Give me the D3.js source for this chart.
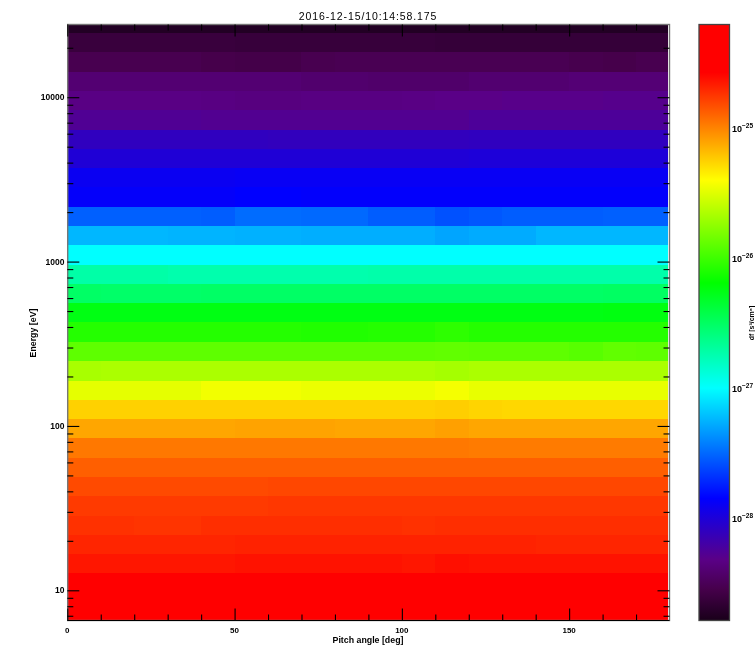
<!DOCTYPE html>
<html>
<head>
<meta charset="utf-8">
<script src="https://cdn.jsdelivr.net/npm/d3@7"></script>
<style>
html,body{margin:0;padding:0;background:#fff;overflow:hidden}
svg{display:block;filter:blur(0.45px)}
text{font-family:"Liberation Sans",Arial,sans-serif;fill:#000}
</style>
</head>
<body>
<svg id="chart" width="755" height="648"></svg>
<script>
const title = "2016-12-15/10:14:58.175";
const xLabel = "Pitch angle [deg]";
const yLabel = "Energy [eV]";
const cbLabel = "df [s\u00B3/cm\u2076]";

// pitch-angle bin edges (deg)
const pitchEdges = [0,10,20,30,40,50,60,70,80,90,100,110,120,130,140,150,160,170,179.4];
// energy bin edges (eV), high to low
const energyEdges = [27700,24547,18737,14302,10909,8327,6353,4849,3700,2824,2155,1644,1255,958,731,558,426,325,248,189,144,110,84,64,49,37.4,28.5,21.8,16.6,12.7,9.67,6.55];
// log10 of the phase-space density: one row per energy bin, one column per pitch bin
const logFlux = [
[-28.74,-28.74,-28.74,-28.74,-28.74,-28.74,-28.74,-28.74,-28.74,-28.74,-28.74,-28.74,-28.74,-28.74,-28.74,-28.74,-28.74,-28.74],
[-28.62,-28.62,-28.62,-28.62,-28.62,-28.63,-28.63,-28.63,-28.63,-28.63,-28.63,-28.64,-28.64,-28.64,-28.64,-28.64,-28.64,-28.64],
[-28.53,-28.53,-28.53,-28.53,-28.55,-28.56,-28.56,-28.53,-28.52,-28.52,-28.52,-28.52,-28.52,-28.52,-28.52,-28.54,-28.55,-28.53],
[-28.40,-28.40,-28.40,-28.40,-28.40,-28.40,-28.40,-28.42,-28.42,-28.43,-28.43,-28.43,-28.41,-28.41,-28.41,-28.39,-28.39,-28.39],
[-28.33,-28.33,-28.33,-28.33,-28.34,-28.35,-28.35,-28.34,-28.34,-28.34,-28.33,-28.32,-28.32,-28.31,-28.31,-28.31,-28.30,-28.30],
[-28.27,-28.27,-28.27,-28.27,-28.28,-28.28,-28.28,-28.28,-28.28,-28.28,-28.28,-28.28,-28.25,-28.25,-28.25,-28.25,-28.25,-28.25],
[-28.10,-28.10,-28.10,-28.10,-28.10,-28.10,-28.11,-28.11,-28.11,-28.11,-28.11,-28.11,-28.10,-28.10,-28.10,-28.10,-28.10,-28.10],
[-28.01,-28.01,-28.01,-28.01,-28.01,-28.01,-28.01,-28.01,-28.01,-28.01,-28.01,-28.01,-28.00,-28.00,-28.00,-28.00,-28.00,-28.00],
[-27.90,-27.90,-27.90,-27.90,-27.90,-27.89,-27.89,-27.89,-27.89,-27.89,-27.89,-27.89,-27.89,-27.89,-27.89,-27.89,-27.89,-27.89],
[-27.87,-27.87,-27.87,-27.87,-27.87,-27.85,-27.85,-27.86,-27.86,-27.86,-27.86,-27.86,-27.86,-27.86,-27.86,-27.86,-27.86,-27.86],
[-27.53,-27.53,-27.53,-27.53,-27.54,-27.49,-27.49,-27.50,-27.50,-27.54,-27.54,-27.58,-27.56,-27.54,-27.54,-27.54,-27.53,-27.53],
[-27.24,-27.24,-27.24,-27.25,-27.25,-27.26,-27.26,-27.27,-27.27,-27.27,-27.27,-27.30,-27.28,-27.28,-27.24,-27.24,-27.24,-27.24],
[-27.00,-27.00,-27.00,-27.00,-27.00,-27.00,-27.00,-27.00,-27.00,-27.00,-27.00,-27.00,-27.00,-27.00,-27.00,-27.00,-27.00,-27.00],
[-26.72,-26.72,-26.72,-26.74,-26.74,-26.74,-26.74,-26.74,-26.74,-26.73,-26.73,-26.73,-26.73,-26.73,-26.73,-26.73,-26.73,-26.73],
[-26.51,-26.52,-26.52,-26.52,-26.51,-26.51,-26.51,-26.51,-26.51,-26.51,-26.51,-26.51,-26.51,-26.51,-26.51,-26.51,-26.50,-26.50],
[-26.25,-26.25,-26.25,-26.25,-26.25,-26.25,-26.25,-26.25,-26.25,-26.25,-26.25,-26.25,-26.25,-26.25,-26.25,-26.25,-26.24,-26.24],
[-26.08,-26.08,-26.08,-26.08,-26.08,-26.08,-26.08,-26.09,-26.09,-26.08,-26.08,-26.05,-26.08,-26.08,-26.08,-26.08,-26.08,-26.08],
[-25.90,-25.90,-25.90,-25.90,-25.90,-25.90,-25.90,-25.90,-25.90,-25.90,-25.90,-25.89,-25.90,-25.90,-25.90,-25.92,-25.89,-25.90],
[-25.67,-25.66,-25.66,-25.66,-25.66,-25.66,-25.66,-25.66,-25.66,-25.66,-25.66,-25.68,-25.66,-25.66,-25.66,-25.66,-25.66,-25.66],
[-25.48,-25.48,-25.48,-25.48,-25.44,-25.44,-25.44,-25.46,-25.46,-25.46,-25.46,-25.43,-25.47,-25.47,-25.47,-25.47,-25.47,-25.47],
[-25.25,-25.25,-25.25,-25.25,-25.25,-25.25,-25.25,-25.25,-25.25,-25.25,-25.25,-25.24,-25.26,-25.27,-25.27,-25.27,-25.27,-25.27],
[-25.11,-25.11,-25.11,-25.11,-25.11,-25.10,-25.10,-25.10,-25.11,-25.11,-25.11,-25.09,-25.11,-25.11,-25.11,-25.11,-25.11,-25.11],
[-24.96,-24.96,-24.96,-24.96,-24.96,-24.96,-24.96,-24.96,-24.96,-24.96,-24.96,-24.96,-24.97,-24.97,-24.97,-24.97,-24.97,-24.97],
[-24.88,-24.88,-24.88,-24.88,-24.88,-24.88,-24.88,-24.88,-24.88,-24.88,-24.88,-24.88,-24.88,-24.88,-24.88,-24.88,-24.88,-24.88],
[-24.81,-24.81,-24.81,-24.81,-24.81,-24.81,-24.80,-24.80,-24.80,-24.80,-24.80,-24.80,-24.80,-24.80,-24.80,-24.80,-24.80,-24.80],
[-24.76,-24.76,-24.76,-24.76,-24.76,-24.76,-24.75,-24.75,-24.75,-24.75,-24.75,-24.75,-24.75,-24.75,-24.75,-24.75,-24.75,-24.75],
[-24.73,-24.73,-24.74,-24.74,-24.72,-24.72,-24.72,-24.72,-24.72,-24.72,-24.73,-24.72,-24.72,-24.72,-24.72,-24.72,-24.72,-24.72],
[-24.69,-24.69,-24.69,-24.69,-24.69,-24.68,-24.68,-24.68,-24.68,-24.68,-24.68,-24.68,-24.68,-24.68,-24.69,-24.69,-24.69,-24.69],
[-24.64,-24.64,-24.64,-24.64,-24.64,-24.63,-24.63,-24.63,-24.63,-24.63,-24.64,-24.62,-24.63,-24.63,-24.63,-24.63,-24.63,-24.63],
[-24.50,-24.50,-24.50,-24.50,-24.50,-24.50,-24.50,-24.50,-24.50,-24.50,-24.50,-24.50,-24.50,-24.50,-24.50,-24.50,-24.50,-24.50],
[-24.40,-24.40,-24.40,-24.40,-24.40,-24.40,-24.40,-24.40,-24.40,-24.40,-24.40,-24.40,-24.40,-24.40,-24.40,-24.40,-24.40,-24.40]
];
// colour bar: log10 stops and their colours
const cbDomain = [-28.79,-24.2];
const colorStops = [-28.79,-28.55,-28.32,-27.85,-27.0,-26.19,-25.4,-24.57,-24.2];
const colorValues = ["#19001a","#46004b","#5a0087","#0000ff","#00ffff","#00ff00","#ffff00","#ff0000","#ff0000"];
const cbTicks = [-25,-26,-27,-28];
const xMajor = [0,50,100,150];
const xMinor = [10,20,30,40,60,70,80,90,110,120,130,140,160,170];
const yMajor = [10,100,1000,10000];
const yMinor = [7,8,9,20,30,40,50,60,70,80,90,200,300,400,500,600,700,800,900,2000,3000,4000,5000,6000,7000,8000,9000,20000];

const svg = d3.select("#chart");
const L = 67.3, R = 669.5, T = 24.5, B = 620.5;
const CL = 699, CR = 729.5;

const x = d3.scaleLinear().domain([0,180]).range([L,R]);
const y = d3.scaleLog().domain([energyEdges[energyEdges.length-1],energyEdges[0]]).range([B,T]);
const color = d3.scaleLinear().domain(colorStops).range(colorValues).interpolate(d3.interpolateRgb).clamp(true);
const cbY = d3.scaleLinear().domain(cbDomain).range([B,T]);

// heat map cells
const cells = [];
logFlux.forEach((row,i)=>row.forEach((v,j)=>cells.push({i,j,v})));
svg.append("g").attr("shape-rendering","crispEdges").selectAll("rect").data(cells).join("rect")
  .attr("x",d=>x(pitchEdges[d.j]))
  .attr("width",d=>x(pitchEdges[d.j+1])-x(pitchEdges[d.j])+0.5)
  .attr("y",d=>y(energyEdges[d.i]))
  .attr("height",d=>y(energyEdges[d.i+1])-y(energyEdges[d.i])+0.5)
  .attr("fill",d=>color(d.v));

// frame
svg.append("rect").attr("x",L+0.4).attr("y",T).attr("width",R-L-0.4).attr("height",B-T)
  .attr("fill","none").attr("stroke","#777").attr("stroke-width",1.4);
svg.append("line").attr("x1",L).attr("x2",R).attr("y1",B).attr("y2",B).attr("stroke","#000").attr("stroke-width",1.2);

// axes built with d3.axis
function ticks(axisFn, scale, vals, size, tf){
  const g = svg.append("g").attr("transform",tf)
    .call(axisFn(scale).tickValues(vals).tickSize(size).tickFormat(""));
  g.select(".domain").remove();
  g.selectAll("line").attr("stroke","#000").attr("stroke-width",1.1);
  return g;
}
const fmt = d=>String(d);
ticks(d3.axisBottom,x,xMajor,-12,`translate(0,${B})`);
ticks(d3.axisBottom,x,xMinor,-6,`translate(0,${B})`);
ticks(d3.axisTop,x,xMajor,-12,`translate(0,${T})`);
ticks(d3.axisTop,x,xMinor,-6,`translate(0,${T})`);
ticks(d3.axisLeft,y,yMajor,-12,`translate(${L},0)`);
ticks(d3.axisLeft,y,yMinor,-6,`translate(${L},0)`);
ticks(d3.axisRight,y,yMajor,-12,`translate(${R},0)`);
ticks(d3.axisRight,y,yMinor,-6,`translate(${R},0)`);

// tick labels
svg.append("g").selectAll("text").data(xMajor).join("text")
  .attr("x",d=>x(d)).attr("y",633).attr("text-anchor","middle")
  .attr("font-size",8).attr("font-weight","bold").text(fmt);
svg.append("g").selectAll("text").data(yMajor).join("text")
  .attr("x",64.5).attr("y",d=>y(d)+3).attr("text-anchor","end")
  .attr("font-size",8.5).attr("font-weight","bold").text(fmt);

// titles
svg.append("text").attr("x",368).attr("y",20).attr("text-anchor","middle")
  .attr("font-size",10.5).attr("letter-spacing",0.9).text(title);
svg.append("text").attr("x",368).attr("y",643).attr("text-anchor","middle")
  .attr("font-size",8.8).attr("font-weight","bold").text(xLabel);
svg.append("text").attr("transform","translate(35.5,333) rotate(-90)").attr("text-anchor","middle")
  .attr("font-size",8.8).attr("font-weight","bold").text(yLabel);

// colour bar
const defs = svg.append("defs");
const grad = defs.append("linearGradient").attr("id","cb").attr("x1",0).attr("x2",0).attr("y1",1).attr("y2",0);
colorStops.forEach((s,i)=>grad.append("stop")
  .attr("offset",(s-cbDomain[0])/(cbDomain[1]-cbDomain[0]))
  .attr("stop-color",colorValues[i]));
svg.append("rect").attr("x",CL).attr("y",T).attr("width",CR-CL).attr("height",B-T)
  .attr("fill","url(#cb)").attr("stroke","#444").attr("stroke-width",1.3);
const cbLabels = svg.append("g").selectAll("text").data(cbTicks).join("text")
  .attr("x",732).attr("y",d=>cbY(d)+4).attr("font-size",9).attr("font-weight","bold");
cbLabels.append("tspan").text("10");
cbLabels.append("tspan").attr("dy",-4).attr("font-size",6.5).text(d=>"\u2212"+Math.abs(d));
svg.append("text").attr("transform","translate(753.5,323) rotate(-90)").attr("text-anchor","middle")
  .attr("font-size",7).attr("font-weight","bold").text(cbLabel);
</script>
</body>
</html>
